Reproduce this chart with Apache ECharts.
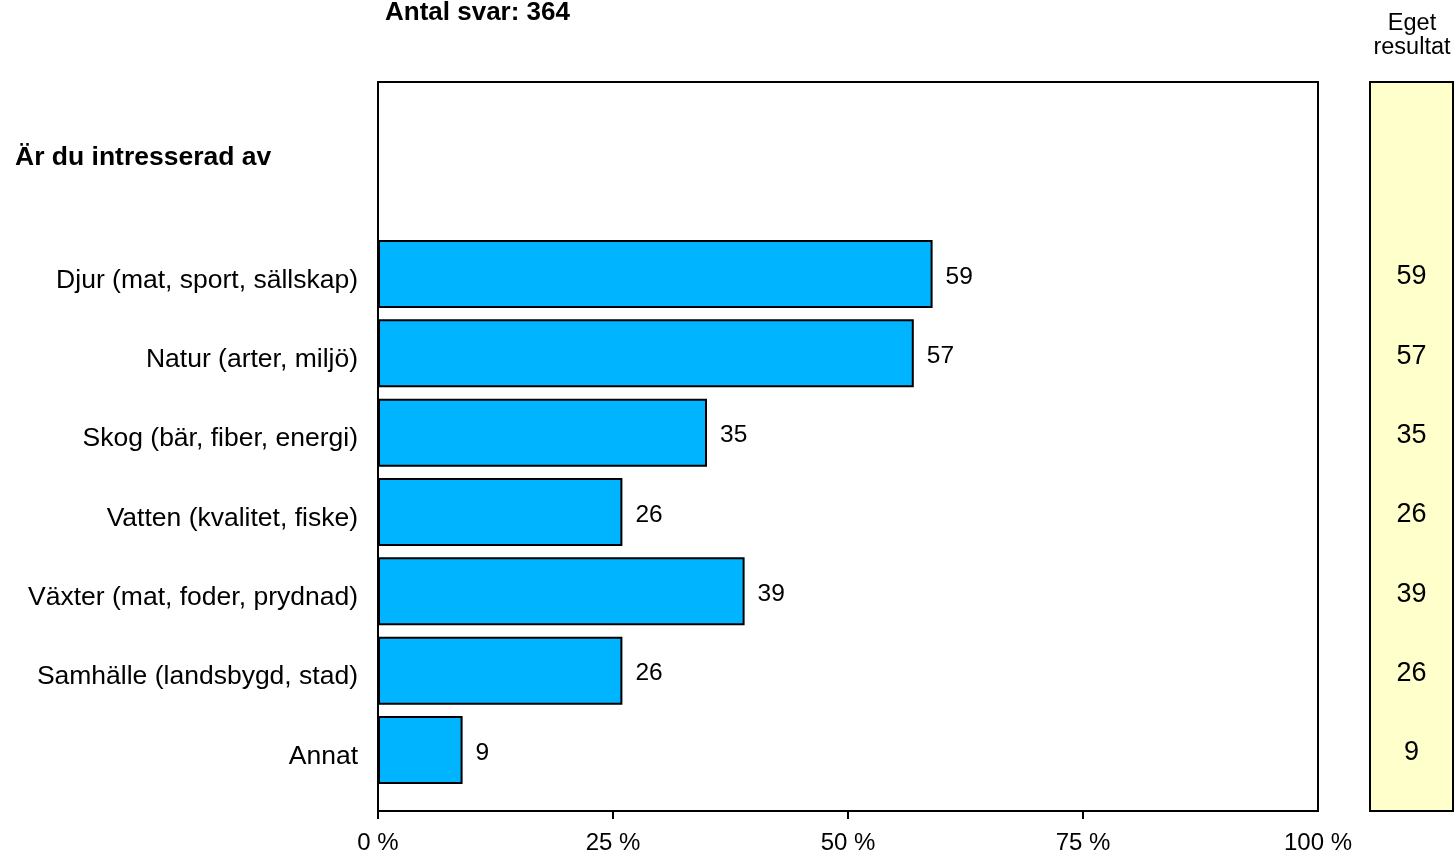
<!DOCTYPE html>
<html>
<head>
<meta charset="utf-8">
<script src="https://cdn.jsdelivr.net/npm/echarts@6/dist/echarts.min.js"></script>
<style>
html,body{margin:0;padding:0;background:#fff;}
#chart{width:1454px;height:854px;}
</style>
</head>
<body>
<div id="chart"></div>
<script>
const categories = ['Djur (mat, sport, sällskap)', 'Natur (arter, miljö)', 'Skog (bär, fiber, energi)', 'Vatten (kvalitet, fiske)', 'Växter (mat, foder, prydnad)', 'Samhälle (landsbygd, stad)', 'Annat'];
const values = [59, 57, 35, 26, 39, 26, 9];
const ownResult = [59, 57, 35, 26, 39, 26, 9];
const xMin = 0, xMax = 100, xStep = 25;
const tickMarks = [0, 25, 50, 75];
const titleText = 'Antal svar: 364';
const questionText = 'Är du intresserad av';
const ownHeader = 'Eget\nresultat';

const FONT = '"Liberation Sans", Arial, sans-serif';
const chart = echarts.init(document.getElementById('chart'), null, {renderer: 'canvas'});

const barTop = 234.33, barBottom = 854 - 789.67;

chart.setOption({
  animation: false,
  textStyle: {fontFamily: FONT, color: '#000'},
  title: [
    {text: titleText, left: 385, top: 0, padding: 0,
     textStyle: {fontFamily: FONT, fontSize: 26, fontWeight: 'bold', color: '#000'}},
    {text: questionText, left: 15, top: 144, padding: 0,
     textStyle: {fontFamily: FONT, fontSize: 26.5, fontWeight: 'bold', color: '#000'}}
  ],
  graphic: [
    {type: 'text', x: 1412, y: 11,
     style: {text: ownHeader, align: 'center', verticalAlign: 'top', fontFamily: FONT, fontSize: 23.5, lineHeight: 24.5, fill: '#000'}}
  ],
  grid: [
    {left: 378, right: 136, top: 82, bottom: 43, show: true, borderColor: '#000', borderWidth: 2, backgroundColor: 'transparent', outerBoundsMode: 'none', containLabel: false},
    {left: 378, right: 136, top: barTop, bottom: barBottom, outerBoundsMode: 'none', containLabel: false},
    {left: 1370, width: 83, top: 82, bottom: 43, show: true, borderColor: '#000', borderWidth: 2, backgroundColor: '#FFFFCC', outerBoundsMode: 'none', containLabel: false},
    {left: 1370, width: 83, top: barTop, bottom: barBottom, outerBoundsMode: 'none', containLabel: false}
  ],
  xAxis: [
    {gridIndex: 0, type: 'value', min: xMin, max: xMax, interval: xStep,
     axisLine: {show: true, lineStyle: {color: '#000', width: 2}},
     axisTick: {show: true, length: 8, customValues: tickMarks, lineStyle: {color: '#000', width: 2}},
     splitLine: {show: false},
     axisLabel: {formatter: '{value} %', fontSize: 24, color: '#000', margin: 20, fontFamily: FONT}},
    {gridIndex: 1, type: 'value', min: xMin, max: xMax, show: false},
    {gridIndex: 2, type: 'value', min: 0, max: 1, show: false},
    {gridIndex: 3, type: 'value', min: 0, max: 1, show: false}
  ],
  yAxis: [
    {gridIndex: 0, type: 'value', show: false, min: 0, max: 1},
    {gridIndex: 1, type: 'category', data: categories, inverse: true,
     axisLine: {show: false}, axisTick: {show: false}, splitLine: {show: false},
     axisLabel: {color: '#000', margin: 20, fontFamily: FONT,
       formatter: v => '{c|' + v + '}',
       rich: {c: {fontSize: 26.5, color: '#000', fontFamily: FONT, padding: [13, 0, 0, 0]}}}},
    {gridIndex: 2, type: 'value', show: false, min: 0, max: 1},
    {gridIndex: 3, type: 'category', data: categories, inverse: true, show: false}
  ],
  series: [
    {type: 'bar', xAxisIndex: 1, yAxisIndex: 1, data: values, barWidth: 68,
     itemStyle: {color: '#00B4FF', borderColor: '#000', borderWidth: 2},
     label: {show: true, position: 'right', distance: 13, offset: [0, 3], fontSize: 24.5, color: '#000', fontFamily: FONT}},
    {type: 'scatter', xAxisIndex: 3, yAxisIndex: 3,
     data: ownResult.map((v, i) => [0.5, categories[i], v]),
     symbolSize: 0, itemStyle: {color: '#000', opacity: 1},
     label: {show: true, position: 'inside', formatter: p => String(p.data[2]), fontSize: 27, color: '#000', opacity: 1, textBorderWidth: 0, offset: [0, 3], fontFamily: FONT}}
  ]
});
</script>
</body>
</html>
